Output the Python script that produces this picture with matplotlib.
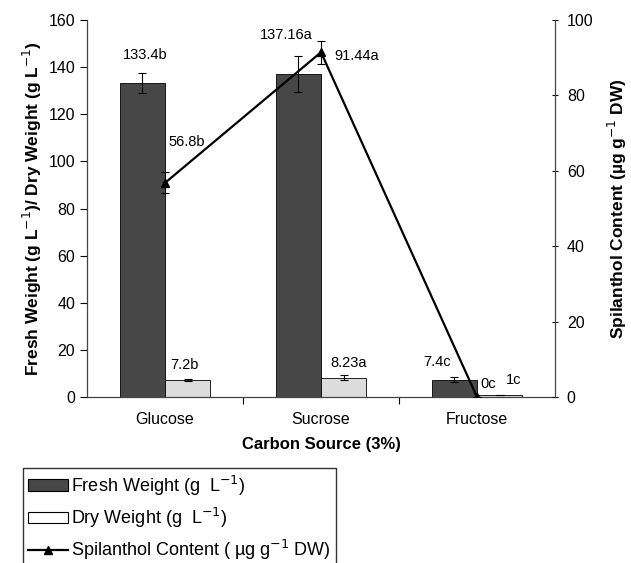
import matplotlib.pyplot as plt
import numpy as np
from matplotlib.patches import Patch
from matplotlib.lines import Line2D

plt.rcParams["font.family"] = ["Liberation Sans", "DejaVu Sans"]

sources = ["Glucose", "Sucrose", "Fructose"]
fresh_weight = [133.4, 137.16, 7.4]
fresh_err = [4.2, 7.6, 1.0]
dry_weight = [7.2, 8.23, 1.0]
dry_err = [0.4, 1.0, 0.0]
spilanthol = [56.8, 91.44, 0.0]
spilanthol_err = [2.8, 3.0, 0.0]

fresh_labels = ["133.4b", "137.16a", "7.4c"]
dry_labels = ["7.2b", "8.23a", "1c"]
spil_labels = ["56.8b", "91.44a", "0c"]

DARK = "#474747"
LIGHT = "#dcdcdc"

fig = plt.figure(figsize=(6.31, 5.63), dpi=100)
ax = fig.add_axes([0.1379, 0.2948, 0.7417, 0.6697])
ax2 = ax.twinx()

x = np.arange(len(sources))
w = 0.29
ax.bar(x - w / 2, fresh_weight, w, color=DARK, edgecolor="black", linewidth=0.6,
       yerr=fresh_err, capsize=3, error_kw=dict(elinewidth=0.8, capthick=0.8, ecolor="black"))
ax.bar(x + w / 2, dry_weight, w, color=LIGHT, edgecolor="black", linewidth=0.6,
       yerr=dry_err, capsize=3, error_kw=dict(elinewidth=0.8, capthick=0.8, ecolor="black"))

ax2.errorbar(x, spilanthol, yerr=spilanthol_err, color="black", lw=1.6,
             marker="^", markersize=6, capsize=3, elinewidth=0.8, capthick=0.8)

# value labels with significance letters, nudged off each mark (x offset, y offset)
fs_lab = 10.5
fresh_off = [(0.02, 11.8), (-0.08, 16.4), (-0.11, 7.5)]
dry_off = [(-0.02, 6.4), (0.03, 6.2), (0.09, 6.2)]
spil_off = [(0.14, 10.8), (0.23, -1.0), (0.07, 3.4)]  # right-axis units
for i in range(3):
    dx, dy = fresh_off[i]
    ax.text(x[i] - w / 2 + dx, fresh_weight[i] + dy, fresh_labels[i],
            ha="center", va="center", fontsize=fs_lab)
    dx, dy = dry_off[i]
    ax.text(x[i] + w / 2 + dx, dry_weight[i] + dy, dry_labels[i],
            ha="center", va="center", fontsize=fs_lab)
    dx, dy = spil_off[i]
    ax2.text(x[i] + dx, spilanthol[i] + dy, spil_labels[i],
             ha="center", va="center", fontsize=fs_lab)

ax.set_xlim(-0.5, 2.5)
ax.set_ylim(0, 160)
ax2.set_ylim(0, 100)
ax.set_yticks(np.arange(0, 161, 20))
ax2.set_yticks(np.arange(0, 101, 20))

ax.set_xticks(x)
ax.set_xticklabels(sources, fontsize=11.5)
ax.set_xticks([0.5, 1.5], minor=True)
ax.tick_params(axis="x", which="major", length=0, pad=11)
ax.tick_params(axis="x", which="minor", length=5, direction="out", width=0.8)
ax.tick_params(axis="y", length=5, width=0.8, labelsize=11.5, direction="out")
ax2.tick_params(axis="y", length=5, width=0.8, labelsize=11.5, direction="inout", pad=6)

for a in (ax, ax2):
    a.spines["top"].set_visible(False)
    for s in ("left", "right", "bottom"):
        a.spines[s].set_color("#444444")
        a.spines[s].set_linewidth(0.9)
ax.spines["right"].set_visible(False)
ax2.spines["left"].set_visible(False)
ax2.spines["bottom"].set_visible(False)

ax.set_ylabel("Fresh Weight (g L$^{-1}$)/ Dry Weight (g L$^{-1}$)",
              fontsize=12.5, fontweight="bold", labelpad=3)
ax2.set_ylabel("Spilanthol Content (µg g$^{-1}$ DW)",
               fontsize=12.5, fontweight="bold", labelpad=9)
ax.set_xlabel("Carbon Source (3%)", fontsize=12, fontweight="bold", labelpad=7)

handles = [
    Patch(facecolor=DARK, edgecolor="black", linewidth=0.8),
    Patch(facecolor="white", edgecolor="black", linewidth=0.8),
    Line2D([0], [0], color="black", lw=1.6, marker="^", markersize=6),
]
labels = [
    "Fresh Weight (g  L$^{-1}$)",
    "Dry Weight (g  L$^{-1}$)",
    "Spilanthol Content ( µg g$^{-1}$ DW)",
]
leg = fig.legend(handles, labels, loc="upper left", bbox_to_anchor=(23 / 631, 1 - 468 / 563),
                 fontsize=13, frameon=True, fancybox=False, edgecolor="black",
                 handlelength=2.2, handleheight=0.6, handletextpad=0.15,
                 labelspacing=0.45, borderpad=0.3, borderaxespad=0)
leg.get_frame().set_linewidth(1.0)

fig.savefig("out.png", dpi=100)
